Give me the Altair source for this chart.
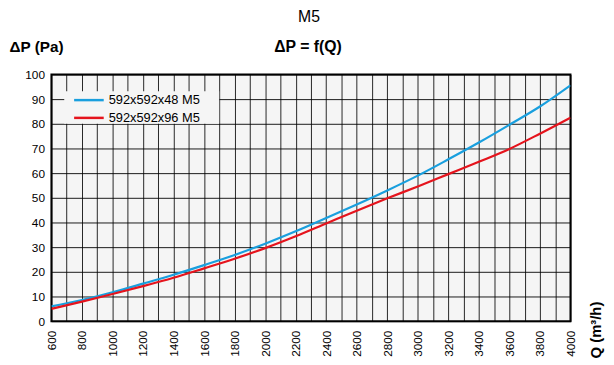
import altair as alt
import pandas as pd

# Data
q = [600, 800, 1000, 1200, 1400, 1600, 1800, 2000, 2200, 2400, 2600, 2800,
     3000, 3200, 3400, 3600, 3800, 4000]
dp_48 = [6.0, 8.6, 11.7, 15.2, 18.8, 22.7, 26.8, 31.4, 36.4, 41.8, 47.3, 53.0,
         59.0, 65.6, 72.4, 79.6, 87.0, 95.6]
dp_96 = [5.0, 7.9, 11.0, 14.2, 17.6, 21.4, 25.3, 29.6, 34.4, 39.6, 44.8, 49.8,
         54.6, 59.6, 64.6, 69.8, 76.0, 82.5]
series = ["592x592x48 M5", "592x592x96 M5"]
colors = ["#199fde", "#e5141d"]
x_ticks = list(range(600, 4001, 100))
y_ticks = list(range(0, 101, 10))

W, H = 526, 250
FONT = "Liberation Sans"

df = pd.DataFrame({
    "Q": q * 2,
    "dP": dp_48 + dp_96,
    "s": [series[0]] * len(q) + [series[1]] * len(q),
})

base = alt.Chart(df)
lines = base.mark_line(strokeWidth=2.2, interpolate="monotone", clip=True).encode(
    x=alt.X("Q:Q", scale=alt.Scale(domain=[600, 4000], nice=False, zero=False),
            axis=alt.Axis(values=x_ticks, format="d",
                          labelExpr="datum.value % 200 == 0 ? datum.label : ''",
                          labelAngle=270, labelAlign="right", labelBaseline="middle",
                          labelPadding=9, ticks=False, domain=False,
                          grid=True, gridColor="#000000", gridOpacity=0.85, gridWidth=1,
                          labelFontSize=12, labelFont=FONT, labelColor="#000000",
                          title=None)),
    y=alt.Y("dP:Q", scale=alt.Scale(domain=[0, 100], nice=False),
            axis=alt.Axis(values=y_ticks, ticks=False, domain=False,
                          grid=True, gridColor="#000000", gridOpacity=0.9, gridWidth=1,
                          labelFontSize=12, labelFont=FONT, labelColor="#000000",
                          labelPadding=7, title=None)),
    color=alt.Color("s:N", scale=alt.Scale(domain=series, range=colors), legend=None),
)

one = pd.DataFrame({"k": [0]})

def text(t, x, y, size=12, bold=False, angle=0, align="center"):
    return alt.Chart(one).mark_text(
        text=t, fontSize=size, font=FONT, fontWeight="bold" if bold else "normal",
        angle=angle, align=align, baseline="middle", color="#000000"
    ).encode(x=alt.value(x), y=alt.value(y))

# manual legend box
legend_bg = alt.Chart(one).mark_rect(color="#f5f5f5").encode(
    x=alt.value(13), x2=alt.value(170), y=alt.value(17), y2=alt.value(50))

legend_layers = [legend_bg]
for i, (name, col) in enumerate(zip(series, colors)):
    yy = 26 + 18 * i
    legend_layers.append(
        alt.Chart(one).mark_rule(color=col, strokeWidth=2.5).encode(
            x=alt.value(23), x2=alt.value(53), y=alt.value(yy)))
    legend_layers.append(text(name, 58, yy, size=13, align="left"))

titles = [
    text("M5", 261, -58, size=16),
    text("\u0394P = f(Q)", 260, -28, size=16, bold=True),
    text("\u0394P (Pa)", -15, -28, size=15.5, bold=True),
    text("Q (m\u00b3/h)", 552, 259, size=15, bold=True, angle=270),
]

chart = alt.layer(lines, *legend_layers, *titles).properties(
    width=W, height=H,
    autosize=alt.AutoSizeParams(type="none"),
    padding={"left": 44, "top": 65, "right": 36, "bottom": 36},
).configure_view(fill="#f5f5f5", stroke="#000000", strokeWidth=2)

chart.save("out.html", embed_options={"renderer": "svg", "actions": False})
